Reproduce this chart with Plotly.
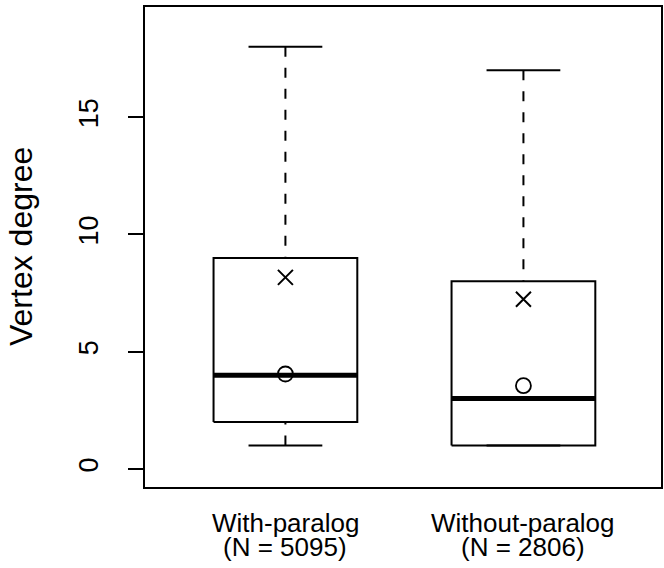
import plotly.graph_objects as go

# ---- data ----
categories = ["With-paralog", "Without-paralog"]
n_counts = [5095, 2806]
whisker_low = [1, 1]
q1 = [2, 1]
median = [4, 3]
q3 = [9, 8]
whisker_high = [18, 17]
mean_circle = [4.05, 3.55]
cross_values = [8.17, 7.24]
y_ticks = [0, 5, 10, 15]

FONT = "Liberation Sans, Arial, Helvetica, sans-serif"
BOX_HALF = 0.302
CAP_HALF = 0.155

fig = go.Figure()
xs = list(range(1, len(categories) + 1))

for i, x in enumerate(xs):
    # whiskers (dashed), drawn from whisker end toward box
    for lo, hi in ((whisker_high[i], q3[i]), (whisker_low[i], q1[i])):
        if lo != hi:
            fig.add_trace(go.Scatter(x=[x, x], y=[lo, hi], mode="lines",
                                     line=dict(color="black", width=2, dash="10px,11px"),
                                     hoverinfo="skip", showlegend=False))
    # caps
    for v in (whisker_low[i], whisker_high[i]):
        fig.add_trace(go.Scatter(x=[x - CAP_HALF, x + CAP_HALF], y=[v, v], mode="lines",
                                 line=dict(color="black", width=2),
                                 hoverinfo="skip", showlegend=False))
    # box
    fig.add_trace(go.Scatter(
        x=[x - BOX_HALF, x + BOX_HALF, x + BOX_HALF, x - BOX_HALF, x - BOX_HALF],
        y=[q1[i], q1[i], q3[i], q3[i], q1[i]], mode="lines",
        line=dict(color="black", width=2), hoverinfo="skip", showlegend=False))
    # median
    fig.add_trace(go.Scatter(x=[x - BOX_HALF, x + BOX_HALF], y=[median[i], median[i]],
                             mode="lines", line=dict(color="black", width=5),
                             hoverinfo="skip", showlegend=False))

fig.add_trace(go.Scatter(x=xs, y=mean_circle, mode="markers",
                         marker=dict(symbol="circle-open", size=15, color="black",
                                     line=dict(width=1.8, color="black")),
                         showlegend=False))
fig.add_trace(go.Scatter(x=xs, y=cross_values, mode="markers",
                         marker=dict(symbol="x-thin-open", size=15, color="black",
                                     line=dict(width=2, color="black")),
                         showlegend=False))

annotations = []
for x, c, n in zip(xs, categories, n_counts):
    annotations.append(dict(x=x, xref="x", y=0, yref="paper", text=c, showarrow=False,
                            yanchor="middle", yshift=-36,
                            font=dict(family=FONT, size=26, color="black")))
    annotations.append(dict(x=x, xref="x", y=0, yref="paper", text=f"(N = {n})",
                            showarrow=False, yanchor="middle", yshift=-60,
                            font=dict(family=FONT, size=26, color="black")))
annotations.append(dict(x=0, xref="paper", y=0.5, yref="paper", text="Vertex degree",
                        textangle=-90, showarrow=False, xanchor="center", xshift=-124,
                        font=dict(family=FONT, size=32, color="black")))

fig.update_layout(
    width=664, height=568,
    margin=dict(l=145, r=1, t=7, b=81, pad=0),
    paper_bgcolor="white", plot_bgcolor="white",
    showlegend=False,
    annotations=annotations,
    xaxis=dict(range=[0.41, 2.578], showgrid=False, zeroline=False,
               showticklabels=False, ticks="", showline=True, mirror=True,
               linecolor="black", linewidth=2),
    yaxis=dict(range=[-0.77, 19.70], showgrid=False, zeroline=False,
               tickvals=y_ticks, ticktext=[str(v) for v in y_ticks],
               ticks="outside", ticklen=15, tickwidth=2, tickcolor="black",
               tickangle=-90, ticklabelstandoff=19,
               tickfont=dict(family=FONT, size=27, color="black"),
               showline=True, mirror=True, linecolor="black", linewidth=2),
)

fig.write_html("out.html", config={"displayModeBar": False},
               post_script="document.body.style.margin='0';document.body.style.padding='0';")
